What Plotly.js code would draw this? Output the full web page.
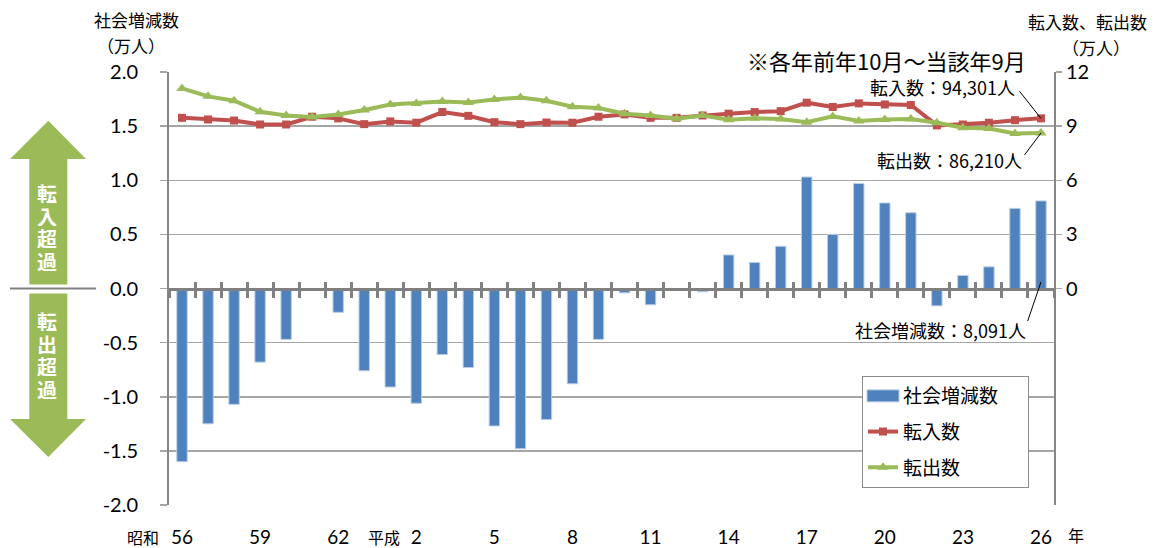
<!DOCTYPE html>
<html><head><meta charset="utf-8">
<script src="https://cdn.plot.ly/plotly-3.0.1.min.js"></script>
<style>html,body{margin:0;padding:0;background:#fff}#chart{width:1157px;height:548px}</style>
</head><body><div id="chart"></div>
<script>
// ---- data ----
const categories = ['S56','S57','S58','S59','S60','S61','S62','S63','H1','H2','H3','H4','H5','H6','H7','H8','H9','H10','H11','H12','H13','H14','H15','H16','H17','H18','H19','H20','H21','H22','H23','H24','H25','H26'];
const netChange = [-1.60,-1.25,-1.07,-0.68,-0.47,-0.01,-0.22,-0.76,-0.91,-1.06,-0.61,-0.73,-1.27,-1.48,-1.21,-0.88,-0.47,-0.04,-0.15,0.00,-0.03,0.31,0.24,0.39,1.03,0.50,0.97,0.79,0.70,-0.16,0.12,0.20,0.74,0.8091];
const inflow = [9.46,9.37,9.31,9.09,9.09,9.52,9.43,9.11,9.26,9.19,9.78,9.57,9.22,9.11,9.20,9.19,9.52,9.65,9.46,9.46,9.59,9.69,9.78,9.83,10.30,10.06,10.26,10.20,10.17,9.04,9.09,9.19,9.33,9.4301];
const outflow = [11.09,10.65,10.41,9.80,9.59,9.51,9.65,9.89,10.20,10.26,10.37,10.31,10.48,10.59,10.41,10.07,10.00,9.69,9.59,9.41,9.59,9.35,9.44,9.39,9.22,9.54,9.28,9.37,9.39,9.19,8.91,8.87,8.59,8.6210];
const tickCats = ['S56','S59','S62','H2','H5','H8','H11','H14','H17','H20','H23','H26'];
const tickLabels = ['56','59','62','2','5','8','11','14','17','20','23','26'];
const leftTickVals = [-2,-1.5,-1,-0.5,0,0.5,1,1.5,2];
const leftTickText = ['-2.0','-1.5','-1.0','-0.5','0.0','0.5','1.0','1.5','2.0'];
const rightTickVals = [0,3,6,9,12];
const rightTickText = ['0','3','6','9','12'];
const seriesNames = ['社会増減数','転入数','転出数'];
const lastLabels = ['社会増減数：8,091人','転入数：94,301人','転出数：86,210人'];

// ---- geometry helpers (plot area in pixels) ----
const W = 1157, H = 548, L = 169, R = 1054, T = 72, B = 505;
const px = x => (x - L) / (R - L);
const py = y => (B - y) / (B - T);
const JP = '"Noto Sans CJK JP", sans-serif';
const NUM = 'Lato, "Noto Sans CJK JP", sans-serif';
const last = categories.length - 1;

const traces = [
  {type:'bar', name:seriesNames[0], x:categories, y:netChange, xaxis:'x', yaxis:'y', width:0.4,
   marker:{color:'#4f81bd', line:{color:'#b9cde5', width:1}}, legendgroup:'a', hoverinfo:'x+y'},
  {type:'scatter', mode:'lines+markers', name:seriesNames[1], x:categories, y:inflow, xaxis:'x', yaxis:'y2',
   line:{color:'#c0504d', width:4}, marker:{symbol:'square', size:8, color:'#c0504d'}, legendgroup:'b'},
  {type:'scatter', mode:'lines+markers', name:seriesNames[2], x:categories, y:outflow, xaxis:'x', yaxis:'y2',
   line:{color:'#9bbb59', width:4}, marker:{symbol:'triangle-up', size:10, color:'#9bbb59'}, legendgroup:'c'},
  {type:'scatter', mode:'lines', x:[0], y:[null], xaxis:'x2', yaxis:'y', showlegend:false, hoverinfo:'skip'},
  {type:'scatter', mode:'lines', x:[0], y:[null], xaxis:'x3', yaxis:'y', showlegend:false, hoverinfo:'skip'}
];

const ann = [];
function txt(text, x, y, size, opts) {
  ann.push(Object.assign({text:text, xref:'paper', yref:'paper', x:px(x), y:py(y), xanchor:'center', yanchor:'middle',
    showarrow:false, font:{family:JP, size:size, color:'#000'}}, opts || {}));
}
txt('社会増減数', 136, 20, 17);
txt('（万人）', 131, 45, 17);
txt('転入数、転出数', 1087, 21, 17);
txt('（万人）', 1096, 47, 17);
txt('※各年前年10月～当該年9月', 886, 60, 22);
txt('年', 1076, 535, 16);
txt('昭和', 143, 537, 16);
txt('平成', 384, 537, 16);
txt(lastLabels[1], 1017, 87, 18, {xanchor:'right'});
txt(lastLabels[2], 1024, 160, 18, {xanchor:'right'});
txt(lastLabels[0], 1028, 330, 18, {xanchor:'right'});
// arrow labels (vertical)
const arrowFont = {family:JP, size:20, color:'#fff', weight:'bold'};
'転入超過'.split('').forEach((c,i)=>txt(c, 47, 193 + i*22.6, 20, {font:arrowFont, height:20, borderpad:0}));
'転出超過'.split('').forEach((c,i)=>txt(c, 47, 321 + i*22.6, 20, {font:arrowFont, height:20, borderpad:0}));
// leader lines anchored to the last data points
function leader(y, yref, ax, ay) {
  ann.push({x:categories[last], y:y, xref:'x', yref:yref, ax:ax, ay:ay, text:' ', showarrow:true, arrowhead:0,
    arrowwidth:1, arrowcolor:'#000', font:{size:1}, standoff:0, startstandoff:0});
}
leader(inflow[last], 'y2', -23, -29);
leader(outflow[last], 'y2', -18, 24);
leader(0.06, 'y', -14, 41);

// left double arrow decoration
function poly(pts) {
  return 'M' + pts.map(p => px(p[0]) + ',' + py(p[1])).join('L') + 'Z';
}
const shapes = [
  {type:'path', xref:'paper', yref:'paper', fillcolor:'#9bbb59', line:{width:0},
   path: poly([[48.3,120.7],[86,159],[67.3,159],[67.3,284.4],[29.3,284.4],[29.3,159],[10,159]])},
  {type:'path', xref:'paper', yref:'paper', fillcolor:'#9bbb59', line:{width:0},
   path: poly([[29.3,293.5],[67.3,293.5],[67.3,419],[86,419],[48.3,457],[10,419],[29.3,419]])},
  {type:'line', xref:'paper', yref:'paper', x0:px(10), x1:px(96), y0:py(288.5), y1:py(288.5), line:{color:'#808080', width:2}}
];

const layout = {
  width:W, height:H, margin:{l:L, r:W-R, t:T, b:H-B, pad:0},
  paper_bgcolor:'#fff', plot_bgcolor:'rgba(0,0,0,0)', showlegend:true, bargap:0.6,
  font:{family:JP, size:18, color:'#000'},
  xaxis:{type:'category', categoryorder:'array', categoryarray:categories, range:[-0.5, last+0.5], anchor:'y',
    showline:false, showgrid:false, zeroline:false, tickmode:'array', tickvals:tickCats, ticktext:tickLabels,
    ticks:'outside', ticklen:15, tickcolor:'rgba(0,0,0,0)', tickfont:{family:NUM, size:19, color:'#000'}, fixedrange:true},
  xaxis2:{overlaying:'x', anchor:'free', position:0.5, type:'linear', range:[-0.5, last+0.5], tickmode:'linear', tick0:-0.5, dtick:1,
    ticks:'outside', ticklen:7, tickwidth:3, tickcolor:'#808080', showticklabels:false, showline:true, linecolor:'#808080',
    linewidth:3, showgrid:false, zeroline:false},
  xaxis3:{overlaying:'x', anchor:'free', position:0.5, type:'linear', range:[-0.5, last+0.5], tickmode:'linear', tick0:-0.5, dtick:1,
    ticks:'inside', ticklen:7, tickwidth:3, tickcolor:'#808080', showticklabels:false, showline:false, showgrid:false, zeroline:false},
  yaxis:{range:[-2,2], domain:[0,1], tickmode:'array', tickvals:leftTickVals, ticktext:leftTickText, showgrid:true,
    gridcolor:'#a6a6a6', gridwidth:1.5, showline:true, linecolor:'#868686', linewidth:2, ticks:'outside', ticklen:7,
    tickcolor:'#a6a6a6', tickwidth:1.5, zeroline:false, tickfont:{family:NUM, size:20, color:'#000'}, ticklabelstandoff:18},
  yaxis2:{overlaying:'y', side:'right', range:[-12,12], tickmode:'array', tickvals:rightTickVals, ticktext:rightTickText,
    showgrid:false, zeroline:false, showline:true, linecolor:'#868686', linewidth:2, ticks:'outside', ticklen:6,
    tickcolor:'#a6a6a6', tickwidth:1.5, tickfont:{family:NUM, size:20, color:'#000'}},
  legend:{x:px(862), y:py(376), xanchor:'left', yanchor:'top', bgcolor:'#fff', bordercolor:'#8c8c8c', borderwidth:1,
    font:{family:JP, size:19, color:'#000'}, traceorder:'grouped', tracegroupgap:8},
  annotations:ann, shapes:shapes
};

function tweakLegend() {
  const gd = document.getElementById('chart');
  const t = gd.querySelectorAll('.legend .traces');
  if (t.length) {
    const p = t[0].querySelector('.legendpoints path');
    if (p) p.setAttribute('d', 'M16,6H-16V-6H16Z');
  }
  gd.querySelectorAll('.legend .bg').forEach(bg => bg.setAttribute('width', '166'));
}
Plotly.newPlot('chart', traces, layout, {displayModeBar:false, staticPlot:true}).then(() => {
  tweakLegend();
  setTimeout(tweakLegend, 50);
});
</script></body></html>
